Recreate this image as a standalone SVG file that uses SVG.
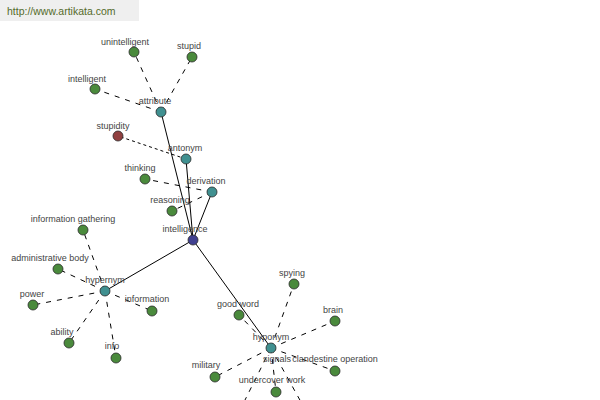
<svg xmlns="http://www.w3.org/2000/svg" width="600" height="400" viewBox="0 0 600 400">
<style>
.bg{fill:#ffffff}
.hdr{fill:#efefef}
.url{font-family:"Liberation Sans",Arial,sans-serif;font-size:10.5px;fill:#556b2a}
.lbl{font-family:"Liberation Sans",Arial,sans-serif;font-size:9px;fill:#444444;text-anchor:middle}
.solid{stroke:#000;stroke-width:1;fill:none}
.dash{stroke:#000;stroke-width:1;fill:none;stroke-dasharray:5,6}
.dot{stroke:#000;stroke-width:1;fill:none;stroke-dasharray:3,3}
circle{stroke:#2a2a2a;stroke-width:0.8}
.g{fill:#4a8a3c}
.t{fill:#409090}
.b{fill:#404090}
.r{fill:#904040}
</style>
<rect class="bg" x="0" y="0" width="600" height="400"/>
<rect class="hdr" x="0" y="0" width="139" height="21"/>
<text class="url" x="7" y="15">http://www.artikata.com</text>
<g id="connectors">
<line class="solid" x1="193" y1="240" x2="161" y2="112"/>
<line class="solid" x1="193" y1="240" x2="186" y2="159"/>
<line class="solid" x1="193" y1="240" x2="212" y2="192"/>
<line class="solid" x1="193" y1="240" x2="105" y2="291"/>
<line class="solid" x1="193" y1="240" x2="271" y2="348"/>
<line class="dash" x1="161" y1="112" x2="134" y2="52"/>
<line class="dash" x1="161" y1="112" x2="192" y2="57"/>
<line class="dash" x1="161" y1="112" x2="95" y2="89"/>
<line class="dot" x1="186" y1="159" x2="118" y2="136"/>
<line class="dash" x1="212" y1="192" x2="145" y2="179"/>
<line class="dash" x1="212" y1="192" x2="172" y2="211"/>
<line class="dash" x1="105" y1="291" x2="83" y2="230"/>
<line class="dash" x1="105" y1="291" x2="58" y2="269"/>
<line class="dash" x1="105" y1="291" x2="33" y2="305"/>
<line class="dash" x1="105" y1="291" x2="152" y2="311"/>
<line class="dash" x1="105" y1="291" x2="69" y2="343"/>
<line class="dash" x1="105" y1="291" x2="116" y2="358"/>
<line class="dash" x1="271" y1="348" x2="294" y2="284"/>
<line class="dash" x1="271" y1="348" x2="239" y2="315"/>
<line class="dash" x1="271" y1="348" x2="335" y2="321"/>
<line class="dash" x1="271" y1="348" x2="215" y2="377"/>
<line class="dash" x1="271" y1="348" x2="335" y2="371"/>
<line class="dash" x1="271" y1="348" x2="276" y2="392"/>
<line class="dash" x1="271" y1="348" x2="235" y2="420"/>
<line class="dash" x1="271" y1="348" x2="311" y2="420"/>
</g>
<g id="n-unintelligent"><circle class="g" cx="134" cy="52" r="5"/><text class="lbl" x="125" y="45">unintelligent</text></g>
<g id="n-stupid"><circle class="g" cx="192" cy="57" r="5"/><text class="lbl" x="189" y="49">stupid</text></g>
<g id="n-intelligent"><circle class="g" cx="95" cy="89" r="5"/><text class="lbl" x="87" y="82">intelligent</text></g>
<g id="n-attribute"><circle class="t" cx="161" cy="112" r="5"/><text class="lbl" x="155" y="104">attribute</text></g>
<g id="n-stupidity"><circle class="r" cx="118" cy="136" r="5"/><text class="lbl" x="113" y="129">stupidity</text></g>
<g id="n-antonym"><circle class="t" cx="186" cy="159" r="5"/><text class="lbl" x="185" y="151">antonym</text></g>
<g id="n-thinking"><circle class="g" cx="145" cy="179" r="5"/><text class="lbl" x="140" y="171">thinking</text></g>
<g id="n-derivation"><circle class="t" cx="212" cy="192" r="5"/><text class="lbl" x="206" y="184">derivation</text></g>
<g id="n-reasoning"><circle class="g" cx="172" cy="211" r="5"/><text class="lbl" x="170" y="203">reasoning</text></g>
<g id="n-intelligence"><circle class="b" cx="193" cy="240" r="5"/><text class="lbl" x="185" y="232">intelligence</text></g>
<g id="n-information-gathering"><circle class="g" cx="83" cy="230" r="5"/><text class="lbl" x="73" y="222">information gathering</text></g>
<g id="n-administrative-body"><circle class="g" cx="58" cy="269" r="5"/><text class="lbl" x="50" y="261">administrative body</text></g>
<g id="n-hypernym"><circle class="t" cx="105" cy="291" r="5"/><text class="lbl" x="105" y="283">hypernym</text></g>
<g id="n-power"><circle class="g" cx="33" cy="305" r="5"/><text class="lbl" x="32" y="297">power</text></g>
<g id="n-information"><circle class="g" cx="152" cy="311" r="5"/><text class="lbl" x="147" y="302">information</text></g>
<g id="n-ability"><circle class="g" cx="69" cy="343" r="5"/><text class="lbl" x="62" y="335">ability</text></g>
<g id="n-info"><circle class="g" cx="116" cy="358" r="5"/><text class="lbl" x="112" y="349">info</text></g>
<g id="n-spying"><circle class="g" cx="294" cy="284" r="5"/><text class="lbl" x="292" y="276">spying</text></g>
<g id="n-good-word"><circle class="g" cx="239" cy="315" r="5"/><text class="lbl" x="238" y="307">good word</text></g>
<g id="n-brain"><circle class="g" cx="335" cy="321" r="5"/><text class="lbl" x="333" y="313">brain</text></g>
<g id="n-hyponym"><circle class="t" cx="271" cy="348" r="5"/><text class="lbl" x="271" y="340">hyponym</text></g>
<g id="n-military"><circle class="g" cx="215" cy="377" r="5"/><text class="lbl" x="206" y="368">military</text></g>
<g id="n-signals"><text class="lbl" x="277" y="362">signals</text></g>
<g id="n-clandestine-operation"><circle class="g" cx="335" cy="371" r="5"/><text class="lbl" x="335" y="362">clandestine operation</text></g>
<g id="n-undercover-work"><circle class="g" cx="276" cy="392" r="5"/><text class="lbl" x="272" y="383">undercover work</text></g>
</svg>
